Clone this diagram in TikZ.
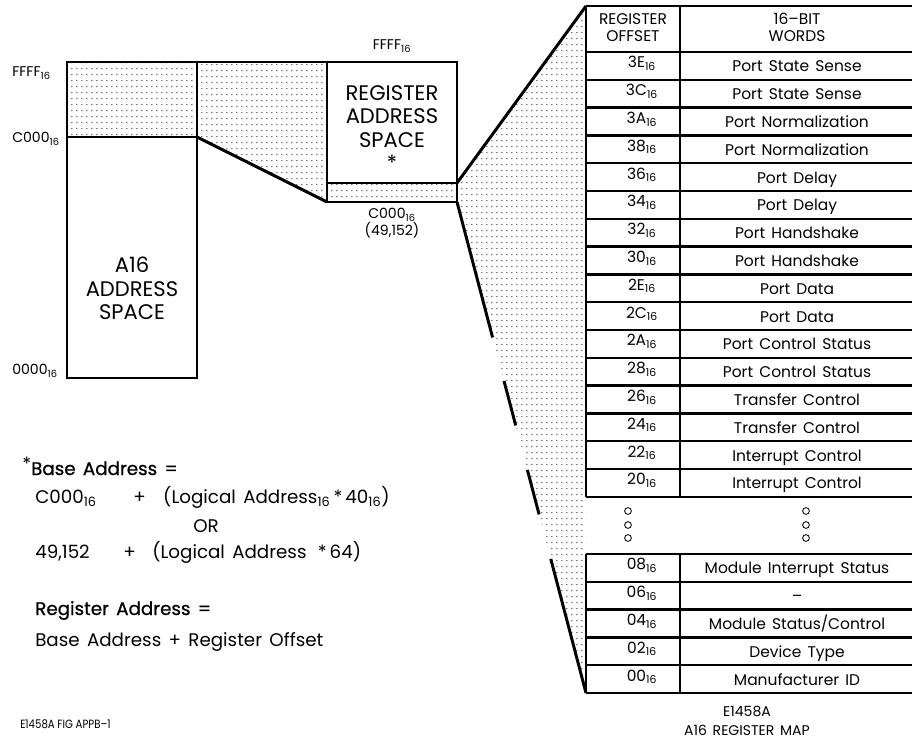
\documentclass[tikz,border=0pt]{standalone}
\usepackage{fontspec}
\setmainfont{Poppins}[WordSpace=1.5]
\newfontfamily\heavyfont{Poppins}[FakeBold=0.8,WordSpace=1.5]
\newfontfamily\figfont{Poppins}[FakeStretch=0.85]
\usetikzlibrary{patterns.meta}

\newcommand{\hexnum}[1]{#1\textsubscript{16}}

\tikzdeclarepattern{
  name=stipple, type=uncolored,
  bottom left={(0pt,0pt)}, top right={(3.56pt,4.05pt)},
  tile size={(3.56pt,4.05pt)},
  code={\fill (1.2pt,1.4pt) rectangle (1.95pt,2.15pt);}
}

\begin{document}
\begin{tikzpicture}[x=0.025cm,y=-0.025cm,
  % line and text styles
  outline/.style={line width=2.1pt},
  rowline/.style={line width=1.8pt},
  stippled/.style={pattern=stipple,pattern color=black!80},
  boxtext/.style={font=\fontsize{15}{16.7}\selectfont,align=center,inner sep=0pt},
  addrlabel/.style={font=\fontsize{10}{12}\selectfont,inner sep=0pt},
  celltext/.style={font=\fontsize{11}{12}\selectfont,inner sep=0pt,anchor=base},
  formula/.style={font=\fontsize{13}{15}\selectfont,inner sep=0pt,anchor=base west},
  caption/.style={font=\fontsize{10}{13.5}\selectfont,inner sep=0pt,align=center}
]
\useasboundingbox (0,0) rectangle (912,740);

% dotted regions
\fill[stippled] (67,62) rectangle (197,137);
\fill[stippled] (197,62) -- (327,62) -- (327,202) -- (197,137) -- cycle;
\fill[stippled] (327,183) rectangle (457,202);
\fill[stippled] (457,183) -- (586,6) -- (586,693) -- (457,202) -- cycle;

% A16 address space
\draw[outline] (67,62) rectangle (197,378);
\draw[outline] (67,137) -- (197,137);
\draw[outline] (197,62) -- (327,62);
\draw[outline] (197,137) -- (327,202);

% register address space
\draw[outline] (327,62) rectangle (457,202);
\draw[outline] (327,183) -- (457,183);

% fan out to the map
\draw[outline] (457,183) -- (586,6);
\draw[outline,dash pattern=on 99.6pt off 32pt on 32.7pt off 32.7pt on 32.7pt off 32.7pt on 120pt off 2pt]
  (457,202) -- (586,693);

\node[boxtext,anchor=north] (a16name) at (132,257) {A16\\ADDRESS\\SPACE};
\node[boxtext,anchor=north] (regname) at (392,85) {REGISTER\\ADDRESS\\SPACE\\*};

\node[addrlabel,anchor=base west] (lowFFFF) at (12,77) {\hexnum{FFFF}};
\node[addrlabel,anchor=base west] (lowC000) at (12,143) {\hexnum{C000}};
\node[addrlabel,anchor=base west] (low0000) at (12,375) {\hexnum{0000}};
\node[addrlabel,anchor=base] (regFFFF) at (392,50) {\hexnum{FFFF}};
\node[addrlabel,align=center,anchor=north] (regC000) at (392,208) {\hexnum{C000}\\(49,152)};

% register map
\draw[outline] (586,6) -- (915,6);
\draw[outline] (586,6) -- (586,497);
\draw[outline] (680,6) -- (680,497);
\draw[outline] (586,554) -- (586,693);
\draw[outline] (680,554) -- (680,693);
\draw[rowline] (586,52) -- (915,52);
\draw[rowline] (586,554) -- (915,554);

\node[celltext,align=center,anchor=north] (offhead) at (633,13) {REGISTER\\OFFSET};
\node[celltext,align=center,anchor=north] (wordhead) at (797,13) {16--BIT\\WORDS};

\foreach \off/\word [count=\i] in {3E/Port State Sense,3C/Port State Sense,
  3A/Port Normalization,38/Port Normalization,36/Port Delay,34/Port Delay,
  32/Port Handshake,30/Port Handshake,2E/Port Data,2C/Port Data,
  2A/Port Control Status,28/Port Control Status,26/Transfer Control,
  24/Transfer Control,22/Interrupt Control,20/Interrupt Control}{
  \node[celltext] (off\off) at (642,{52+27.8*\i-11.9}) {\hexnum{\off}};
  \node[celltext] (word\off) at (797,{52+27.8*\i-7.9}) {\word};
  \draw[rowline] (586,{52+27.8*\i}) -- (915,{52+27.8*\i});
}

% skipped rows
\foreach \y in {511,525,538}{
  \draw[line width=0.6pt] (628,\y) circle (2.4pt);
  \draw[line width=0.6pt] (806,\y) circle (2.4pt);
}

\foreach \off/\word [count=\i] in {08/Module Interrupt Status,06/--,
  04/{Module Status/Control},02/Device Type,00/Manufacturer ID}{
  \node[celltext] (off\off) at (642,{554+27.8*\i-11.9}) {\hexnum{\off}};
  \node[celltext] (word\off) at (797,{554+27.8*\i-7.9}) {\word};
  \draw[rowline] (586,{554+27.8*\i}) -- (915,{554+27.8*\i});
}

\node[caption,anchor=north] (mapcap) at (747,706) {E1458A\\A16 REGISTER MAP};
\node[anchor=base west,inner sep=0pt,font=\fontsize{8.5}{10}\selectfont] (figid) at (20,728) {\figfont E1458A FIG APPB\textendash1};

% address formulas
\node[formula] (base1) at (22,475) {\raisebox{3pt}{*}\heavyfont Base Address =};
\node[formula] (base2) at (35,503) {\makebox[69.7pt][l]{\hexnum{C000}}\makebox[21.3pt][l]{+}(Logical Address\textsubscript{16}\,*\,\hexnum{40})};
\node[formula] (orword) at (193,532) {OR};
\node[formula] (base3) at (35,558) {\makebox[62.6pt][l]{49,152}\makebox[20.6pt][l]{+}(Logical Address\hspace{8pt}*\,64)};
\node[formula] (reg1) at (35,615) {\heavyfont Register Address =};
\node[formula] (reg2) at (35,646) {Base Address + Register Offset};

\end{tikzpicture}
\end{document}
